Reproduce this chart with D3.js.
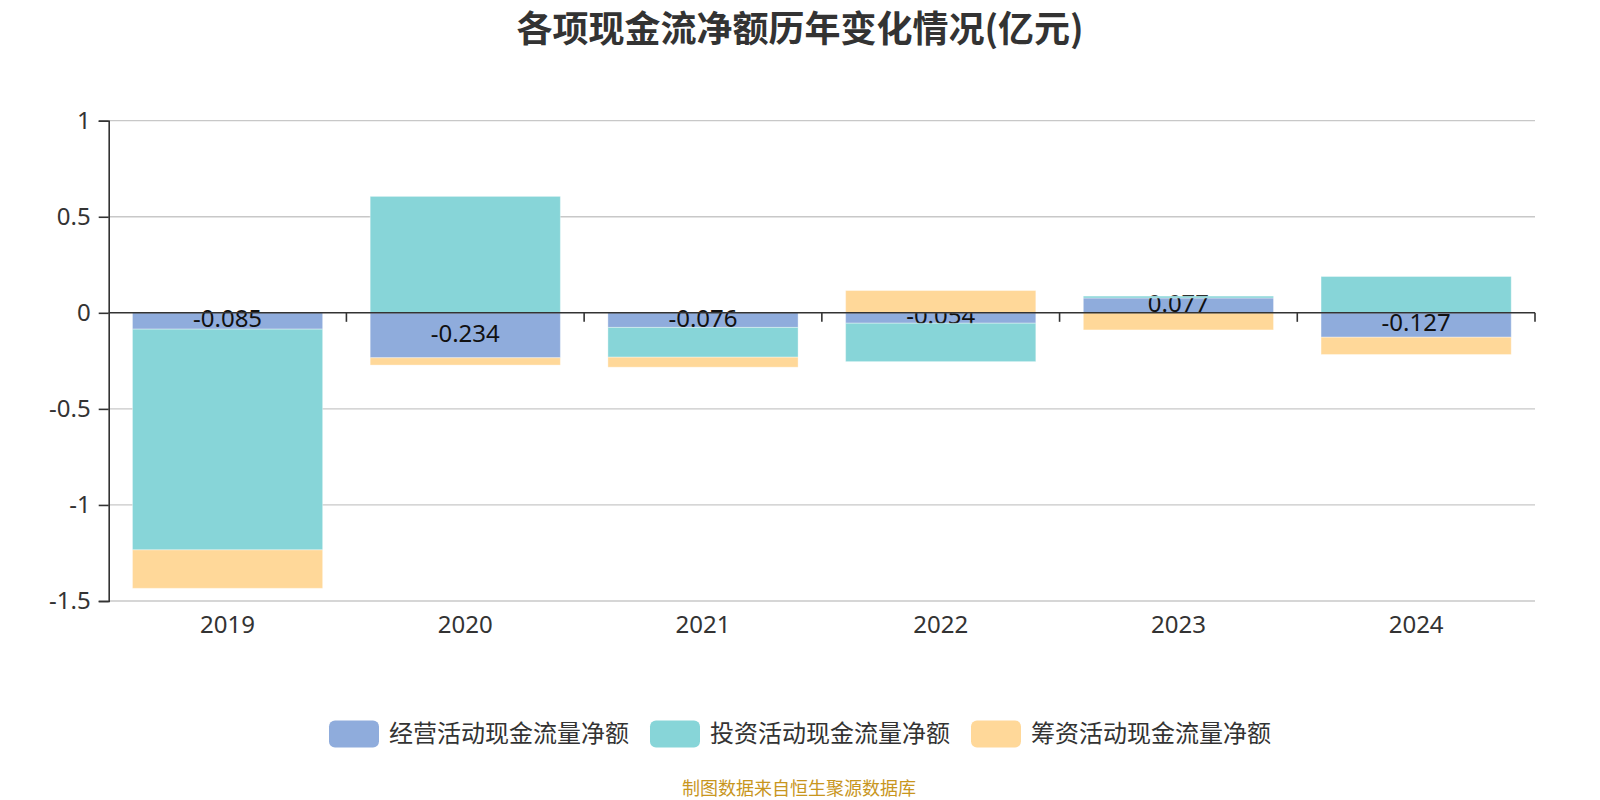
<!DOCTYPE html>
<html>
<head>
<meta charset="utf-8">
<script src="https://cdn.jsdelivr.net/npm/d3@7/dist/d3.min.js"></script>
<style>
  html, body { margin: 0; padding: 0; background: #fff; }
  svg { display: block; }
  text { font-family: "Noto Sans", "Noto Sans CJK SC", sans-serif; }
</style>
</head>
<body>
<svg id="chart" width="1600" height="800"></svg>
<script>
const categories = ["2019", "2020", "2021", "2022", "2023", "2024"];
const seriesNames = ["经营活动现金流量净额", "投资活动现金流量净额", "筹资活动现金流量净额"];
const operating = [-0.085, -0.234, -0.076, -0.054, 0.077, -0.127];
const investing = [-1.149, 0.606, -0.155, -0.200, 0.010, 0.189];
const financing = [-0.200, -0.038, -0.052, 0.116, -0.089, -0.090];
const yTicks = [1, 0.5, 0, -0.5, -1, -1.5];
const colors = ["#8FACDC", "#87D5D8", "#FFD899"];
const titleText = "各项现金流净额历年变化情况(亿元)";
const footerText = "制图数据来自恒生聚源数据库";

const svg = d3.select("#chart");
const margin = { left: 108.7, right: 1535, top: 120.7, bottom: 601 };

const x = d3.scaleBand().domain(categories).range([margin.left, margin.right]).paddingInner(0.2).paddingOuter(0.1);
const xb = d3.scaleBand().domain(categories).range([margin.left, margin.right]);
const y = d3.scaleLinear().domain([-1.5, 1]).range([margin.bottom, margin.top]);

const table = categories.map((c, i) => ({ cat: c, s0: operating[i], s1: investing[i], s2: financing[i] }));
const stack = d3.stack().keys(["s0", "s1", "s2"]).offset(d3.stackOffsetDiverging);
const stacked = stack(table);

// Title
svg.append("text").attr("x", 800).attr("y", 26).attr("text-anchor", "middle")
  .attr("dominant-baseline", "central")
  .style("font-family", "'Noto Sans CJK SC', sans-serif")
  .style("font-size", "36px").style("font-weight", "bold").attr("fill", "#333").text(titleText);

// Grid lines
svg.append("g").selectAll("line").data(yTicks.filter(t => t !== 0)).join("line")
  .attr("x1", margin.left).attr("x2", margin.right)
  .attr("y1", d => y(d)).attr("y2", d => y(d))
  .attr("stroke", "#c8c8c8").attr("stroke-width", 1.3);

// Y axis
const yAxis = svg.append("g").attr("transform", `translate(${margin.left},0)`)
  .call(d3.axisLeft(y).tickValues(yTicks).tickSize(10).tickPadding(8).tickFormat(d => String(d)));
yAxis.select(".domain").attr("stroke", "#333").attr("stroke-width", 1.6);
yAxis.selectAll(".tick line").attr("stroke", "#333").attr("stroke-width", 1.6);
yAxis.selectAll(".tick text").attr("fill", "#333").style("font-size", "24px")
  .style("font-family", "'Noto Sans', sans-serif");

// Bars per series, label for first series drawn before later series
const gBars = svg.append("g");
stacked.forEach((layer, si) => {
  gBars.append("g").selectAll("rect").data(layer).join("rect")
    .attr("x", d => x(d.data.cat))
    .attr("width", x.bandwidth())
    .attr("y", d => y(Math.max(d[0], d[1])))
    .attr("height", d => Math.abs(y(d[0]) - y(d[1])))
    .attr("fill", colors[si])
    .attr("stroke", "rgba(255,255,255,0.35)").attr("stroke-width", 1);
  if (si === 0) {
    gBars.append("g").selectAll("text").data(layer).join("text")
      .attr("x", d => x(d.data.cat) + x.bandwidth() / 2)
      .attr("y", d => (y(d[0]) + y(d[1])) / 2 - 2)
      .attr("dy", "0.35em")
      .attr("text-anchor", "middle")
      .style("font-size", "24px").attr("fill", "#111")
      .text(d => String(d.data.s0));
  }
});

// X axis at zero
const xAxis = svg.append("g").attr("transform", `translate(0,${y(0)})`);
xAxis.append("line").attr("x1", margin.left).attr("x2", margin.right)
  .attr("y1", 0).attr("y2", 0).attr("stroke", "#333").attr("stroke-width", 1.6);
const boundaries = categories.map(c => xb(c) + xb.bandwidth());
xAxis.selectAll("line.tk").data(boundaries).join("line").attr("class", "tk")
  .attr("x1", d => d).attr("x2", d => d).attr("y1", 0).attr("y2", 9)
  .attr("stroke", "#333").attr("stroke-width", 1.6);

// X labels below plot
svg.append("g").selectAll("text").data(categories).join("text")
  .attr("x", d => x(d) + x.bandwidth() / 2)
  .attr("y", 625).attr("dy", "0.35em").attr("text-anchor", "middle")
  .style("font-size", "24px").attr("fill", "#333").text(d => d);

// Legend
const legendG = svg.append("g");
const iconW = 50, iconH = 27, gapIT = 10, itemGap = 21, fs = 24;
const items = seriesNames.map((n, i) => ({ n, c: colors[i], w: iconW + gapIT + n.length * fs }));
const total = d3.sum(items, d => d.w) + itemGap * (items.length - 1);
let cx = 800 - total / 2;
items.forEach(it => {
  const g = legendG.append("g").attr("transform", `translate(${cx},734)`);
  g.append("rect").attr("x", 0).attr("y", -iconH / 2).attr("width", iconW).attr("height", iconH)
    .attr("rx", 6).attr("fill", it.c);
  g.append("text").attr("x", iconW + gapIT).attr("y", 0).attr("dy", "0.35em")
    .style("font-family", "'Noto Sans CJK SC', sans-serif")
    .style("font-size", fs + "px").attr("fill", "#333").text(it.n);
  cx += it.w + itemGap;
});

// Footer
svg.append("text").attr("x", 799).attr("y", 789).attr("dy", "0.35em").attr("text-anchor", "middle")
  .style("font-family", "'Noto Sans CJK SC', sans-serif")
  .style("font-size", "18px").attr("fill", "#C8961E").text(footerText);
</script>
</body>
</html>
